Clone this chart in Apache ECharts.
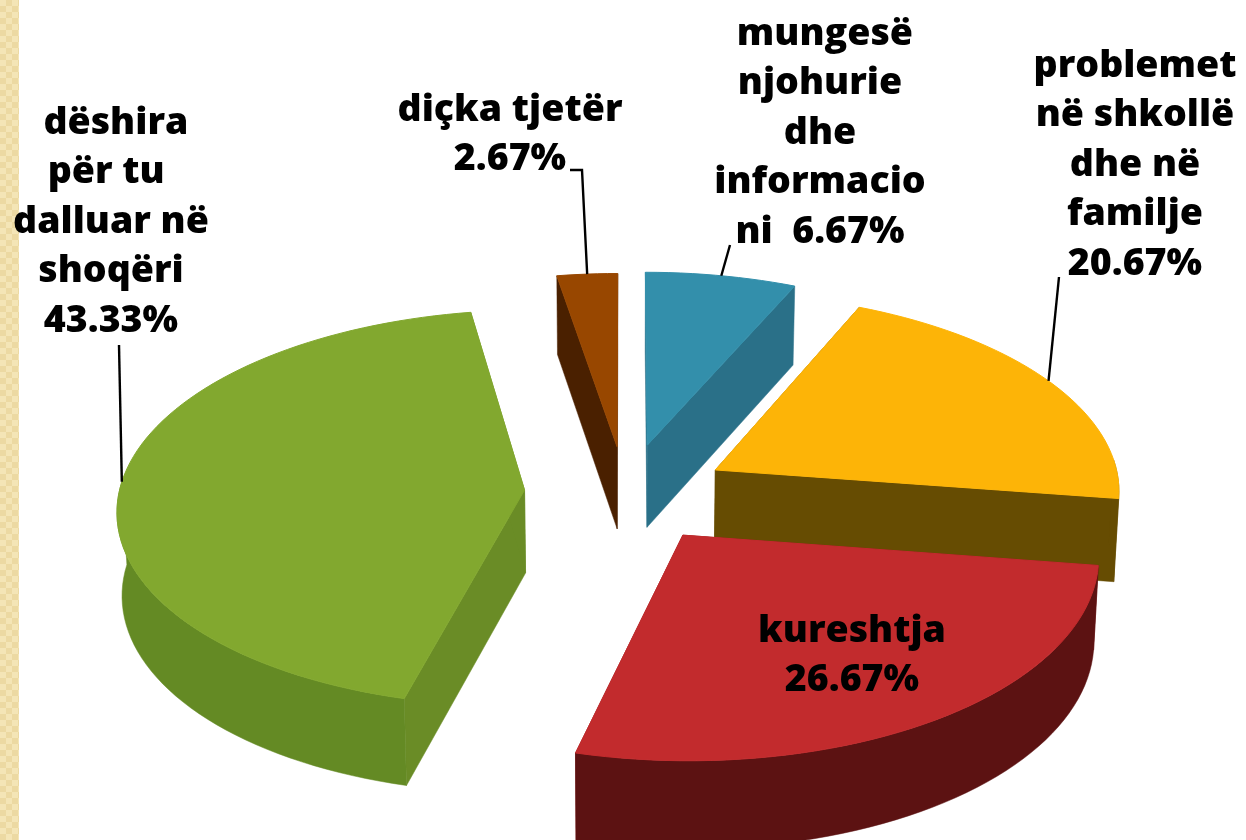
<!DOCTYPE html>
<html>
<head>
<meta charset="utf-8">
<style>
html,body{margin:0;padding:0;background:#fff;width:100%;height:100%;overflow:hidden}
#strip{position:absolute;left:0;top:0;width:19px;height:840px;
 background-color:#f4e5b6;
 background-image:
  linear-gradient(45deg,#ecd9a2 25%,transparent 25%,transparent 75%,#ecd9a2 75%),
  linear-gradient(45deg,#ecd9a2 25%,transparent 25%,transparent 75%,#ecd9a2 75%);
 background-size:12px 12px;background-position:0 0,6px 6px}
#main{position:absolute;left:0;top:0;width:1246px;height:840px}
</style>
</head>
<body>
<div id="strip"></div>
<div id="main"></div>
<script src="https://cdn.jsdelivr.net/npm/echarts@6/dist/echarts.min.js"></script>
<script>
// Clockwise from 12 o'clock
const categories = ['mungesë njohurie dhe informacioni', 'problemet në shkollë dhe në familje', 'kureshtja', 'dëshira për tu dalluar në shoqëri', 'diçka tjetër'];
const values = [6.67, 20.67, 26.67, 43.33, 2.67];
const labels = [' mungesë\nnjohurie\ndhe\ninformacio\nni  6.67%', 'problemet\nnë shkollë\ndhe në\nfamilje\n20.67%', 'kureshtja\n26.67%', ' dëshira\npër tu \ndalluar në\nshoqëri\n43.33%', 'diçka tjetër\n2.67%'];
const topColors = ['#338fab', '#fdb407', '#c22b2d', '#82a82f', '#984700'];
const wallColors = ['#2a7088', '#664c02', '#5c1212', '#648a24', '#4a2000'];
const edgeColors = ['#2a7088', '#664c02', '#7a1717', '#6a8c26', '#4a2000'];

const view = {cx: 625, cy: 490, A: 405, B: 196.4, persp: 0.091, depth: 83, shrink: 0.01};
// how far each slice is pulled out of the pie, in pie radii (sideways, backwards)
const pullOut = [[0.056, 0.233], [0.225, 0.103], [0.14, -0.225], [-0.248, 0], [-0.02, 0.225]];
const labelAt = [[820, 133], [1135, 165], [852, 656], [111, 222], [510, 135]];
const leaderFrom = [[[730, 245]], [[1059, 277]], null, [[119, 345]], [[570, 170], [582, 170]]];

const total = values.reduce((a, b) => a + b, 0);
let running = 0;
const slices = values.map((v) => {
  const a0 = running / total * Math.PI * 2;
  running += v;
  const a1 = running / total * Math.PI * 2;
  return {a0, a1, mid: (a0 + a1) / 2};
});

function project(X, Y, z) {
  const w = 1 + view.persp * Y;
  return [view.cx + (1 - z * view.shrink) * view.A * X / w, view.cy - view.B * Y / w + z * view.depth / Math.sqrt(w)];
}

function renderSlice(params) {
  const i = params.dataIndex;
  const s = slices[i];
  const ex = pullOut[i][0], ey = pullOut[i][1];
  const n = Math.max(6, Math.round((s.a1 - s.a0) * 30));
  const angles = [];
  for (let k = 0; k <= n; k++) angles.push(s.a0 + (s.a1 - s.a0) * k / n);
  const at = (a, z) => project(ex + Math.sin(a), ey + Math.cos(a), z);
  const apexT = project(ex, ey, 0), apexB = project(ex, ey, 1);
  const top = angles.map((a) => at(a, 0));
  const order = apexT[1];
  const poly = (points, fill, z2, lw) => ({
    type: 'polygon', z2, shape: {points},
    style: {fill, stroke: fill, lineWidth: lw}
  });
  const children = [
    poly([apexT, top[0], at(s.a0, 1), apexB], edgeColors[i], order, 0.5),
    poly([apexT, top[n], at(s.a1, 1), apexB], edgeColors[i], order, 0.5)
  ];
  // outer wall only where it faces the viewer
  const front = angles.filter((a) => Math.cos(a) < 0.06);
  if (front.length > 1) {
    children.push(poly(front.map((a) => at(a, 0)).concat(front.slice().reverse().map((a) => at(a, 1))), wallColors[i], order + 0.1, 0.5));
  }
  children.push(poly([apexT].concat(top), topColors[i], order + 0.2, 1));
  if (leaderFrom[i]) {
    const anchor = at(s.mid, 0);
    children.push({
      type: 'polyline', z2: 1000,
      shape: {points: leaderFrom[i].concat([anchor])},
      style: {stroke: '#000', lineWidth: 2.4, fill: 'none'}
    });
  }
  children.push({
    type: 'text', z2: 1001,
    style: {
      x: labelAt[i][0], y: labelAt[i][1], text: labels[i],
      fontFamily: 'Open Sans', fontWeight: 800, fontSize: 37.5, lineHeight: 49.5,
      fill: '#000', align: 'center', verticalAlign: 'middle'
    }
  });
  return {type: 'group', children};
}

const chart = echarts.init(document.getElementById('main'), null, {renderer: 'canvas'});
chart.setOption({
  animation: false,
  backgroundColor: 'transparent',
  series: [{
    type: 'custom',
    coordinateSystem: 'none',
    silent: true,
    renderItem: renderSlice,
    data: categories.map((name, i) => ({name, value: values[i]}))
  }]
});
</script>
</body>
</html>
